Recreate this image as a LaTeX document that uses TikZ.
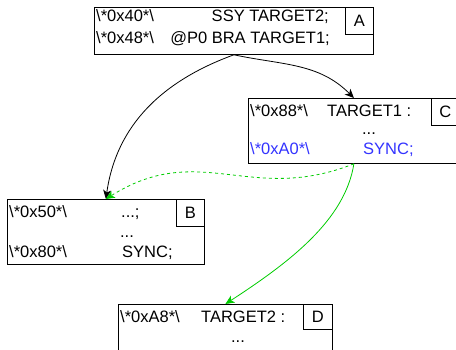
\documentclass[tikz,border=0pt]{standalone}
\usepackage{fontspec}
\setmainfont{Liberation Sans}
\usepackage{tikz}
\usetikzlibrary{arrows,arrows.meta}

\definecolor{syncblue}{RGB}{51,51,255}
\definecolor{jumpgreen}{RGB}{0,204,0}

\begin{document}
\begin{tikzpicture}[->,>={Stealth[length=9pt,width=8pt,inset=2.5pt]},x=1pt,y=1pt,
        block/.style={draw,line width=0.8pt,rectangle,anchor=north west,inner sep=0pt},
        tag/.style={draw,line width=0.8pt,rectangle,anchor=north east,inner sep=0pt,
          minimum width=28pt,minimum height=27pt,font=\fontsize{16.5}{19}\selectfont},
        txt/.style={inner sep=0pt,font=\fontsize{16.5}{19}\selectfont},
        flow/.style={line width=0.8pt}]

  \clip (0,0) rectangle (456,-350);

  % blocks
  \node[block,minimum width=279pt,minimum height=47pt] (A) at (94,-7) {};
  \node[block,minimum width=211pt,minimum height=65pt] (C) at (248,-98) {};
  \node[block,minimum width=197pt,minimum height=65pt] (B) at (7,-199) {};
  \node[block,minimum width=214pt,minimum height=70pt] (D) at (118,-304) {};

  \node[tag] (tA) at (A.north east) {A};
  \node[tag] (tC) at (C.north east) {C};
  \node[tag] (tB) at (B.north east) {B};
  \node[tag,minimum width=29pt,minimum height=25pt] (tD) at (D.north east) {D};

  % block A
  \node[txt,anchor=base west] (a1) at (96,-22) {\textbackslash*0x40*\textbackslash};
  \node[txt,anchor=base east] (a2) at (329,-22) {SSY TARGET2;};
  \node[txt,anchor=base west] (a3) at (96,-44) {\textbackslash*0x48*\textbackslash};
  \node[txt,anchor=base east] (a4) at (330,-44) {@P0 BRA TARGET1;};

  % block C
  \node[txt,anchor=base west] (c1) at (250,-117) {\textbackslash*0x88*\textbackslash};
  \node[txt,anchor=base west] (c2) at (327,-117) {TARGET1 :};
  \node[txt,anchor=base] (c3) at (369,-135) {...};
  \node[txt,anchor=base west,text=syncblue] (c4) at (250,-155) {\textbackslash*0xA0*\textbackslash};
  \node[txt,anchor=base west,text=syncblue] (c5) at (363,-155) {SYNC;};

  % block B
  \node[txt,anchor=base west] (b1) at (9,-218) {\textbackslash*0x50*\textbackslash};
  \node[txt,anchor=base west] (b2) at (121,-218) {...;};
  \node[txt,anchor=base] (b3) at (127,-238) {...};
  \node[txt,anchor=base west] (b4) at (9,-258) {\textbackslash*0x80*\textbackslash};
  \node[txt,anchor=base west] (b5) at (122,-258) {SYNC;};

  % block D
  \node[txt,anchor=base west] (d1) at (120,-323) {\textbackslash*0xA8*\textbackslash};
  \node[txt,anchor=base west] (d2) at (201,-323) {TARGET2 :};
  \node[txt,anchor=base] (d3) at (238,-343) {...};

  % edges
  \draw[flow] (A.south) to[out=-12,in=135] (C.north);
  \draw[flow] (A.south) to[out=200,in=82] (B.north);
  \draw[flow,jumpgreen,dashed] (C.south) .. controls (250,-205) and (200,-140) .. (B.north);
  \draw[flow,jumpgreen] (C.south) .. controls (345,-220) and (290,-262) .. (D.north);

\end{tikzpicture}
\end{document}
